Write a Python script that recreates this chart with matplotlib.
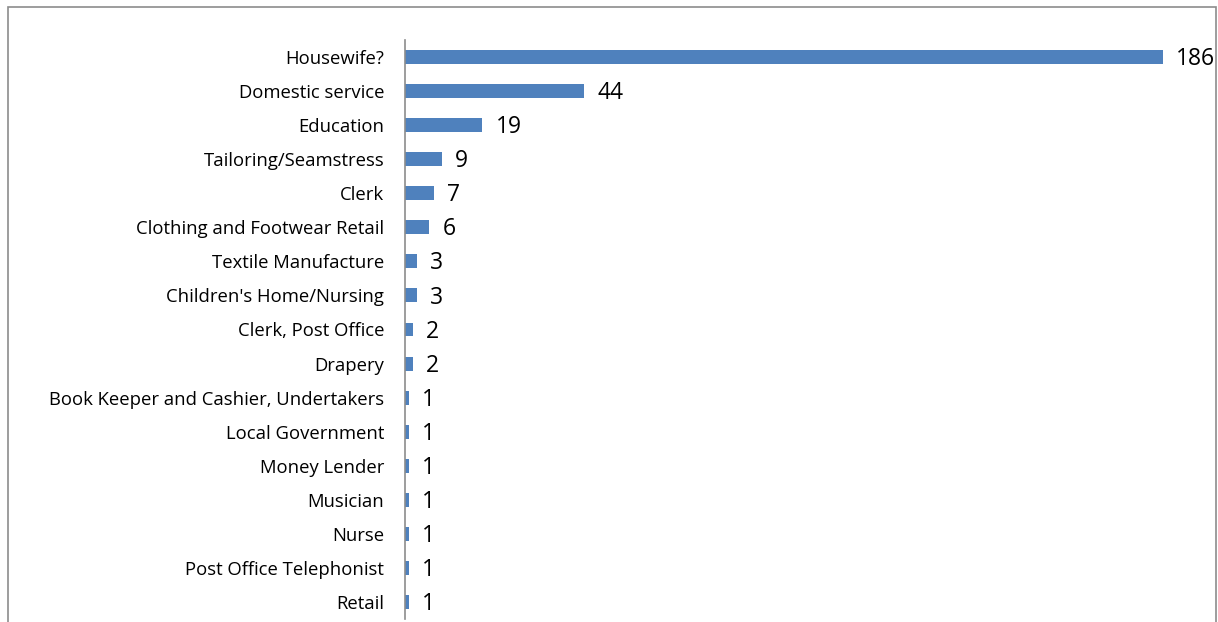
import matplotlib.pyplot as plt
from matplotlib.patches import Rectangle

occupations = [
    "Housewife?", "Domestic service", "Education", "Tailoring/Seamstress",
    "Clerk", "Clothing and Footwear Retail", "Textile Manufacture",
    "Children's Home/Nursing", "Clerk, Post Office", "Drapery",
    "Book Keeper and Cashier, Undertakers", "Local Government",
    "Money Lender", "Musician", "Nurse", "Post Office Telephonist", "Retail",
]
counts = [186, 44, 19, 9, 7, 6, 3, 3, 2, 2, 1, 1, 1, 1, 1, 1, 1]

plt.rcParams['font.family'] = ['Open Sans', 'DejaVu Sans']

W, H = 1218, 622
fig = plt.figure(figsize=(W / 100, H / 100), dpi=100)

# chart frame (bottom edge runs off the page)
fig.patches.append(Rectangle((8 / W, -0.1), (1216 - 8) / W, 1.1 - 7 / H,
                             transform=fig.transFigure, fill=False,
                             edgecolor='#8c8c8c', linewidth=1.2))

ax = fig.add_axes([405 / W, (H - 619) / H, (1200 - 405) / W, (619 - 40) / H])
ypos = list(range(len(occupations)))
ax.barh(ypos, counts, height=0.41, color='#4F81BD')
ax.set_ylim(len(occupations) - 0.5, -0.5)
ax.set_xlim(0, 186 * (1200 - 405) / (1163 - 405))

for y, v in zip(ypos, counts):
    ax.annotate(str(v), (v, y), xytext=(9.5, -1.5), textcoords='offset points',
                va='center', ha='left', fontsize=16.5)

ax.set_yticks(ypos)
ax.set_yticklabels(occupations, fontsize=13.3)
ax.tick_params(axis='y', length=0, pad=15)
ax.set_xticks([])
for s in ['top', 'right', 'bottom']:
    ax.spines[s].set_visible(False)
ax.spines['left'].set_color('#8c8c8c')
ax.spines['left'].set_linewidth(1.2)

fig.savefig('out.png', dpi=100)
